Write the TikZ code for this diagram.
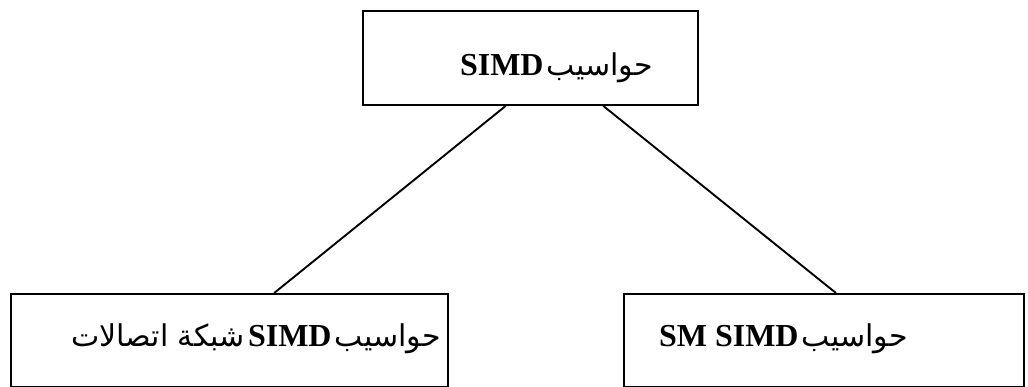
\documentclass[tikz,border=0pt]{standalone}
\usepackage{fontspec}
\usetikzlibrary{calc}
\TeXXeTstate=1
\newfontfamily\arabicfont[Script=Arabic]{DejaVu Sans}
\newfontfamily\latinfont{Liberation Serif}
\newcommand{\ar}[1]{{\arabicfont\fontsize{30pt}{34pt}\selectfont #1}}
\newcommand{\la}[1]{{\latinfont\bfseries\fontsize{32pt}{36pt}\selectfont #1}}
\begin{document}
\begin{tikzpicture}[x=1pt,y=-1pt,
  box/.style={draw,line width=1.8pt,rectangle,inner sep=0pt,anchor=north west},
  txt/.style={inner sep=0pt,anchor=base east},
  link/.style={line width=1.9pt}]
\useasboundingbox (0,0) rectangle (1028,386);
% boxes
\node[box,minimum width=335pt,minimum height=94pt] (top) at (362,10) {};
\node[box,minimum width=437pt,minimum height=93pt] (left) at (10,293) {};
\node[box,minimum width=400pt,minimum height=93pt] (right) at (623,293) {};
% texts
\node[txt] (ttop) at (653,75) {\arabicfont\beginR\ar{حواسيب} \la{SIMD}\endR};
\node[txt] (tleft) at (441,346) {\arabicfont\beginR\ar{حواسيب} \la{SIMD} \ar{شبكة اتصالات}\endR};
\node[txt] (tright) at (908,346) {\arabicfont\beginR\ar{حواسيب} \beginL\la{SM SIMD}\endL\endR};
% connectors
\draw[link] ($(top.south west)!0.427!(top.south east)$) -- ($(left.north west)!0.602!(left.north east)$);
\draw[link] ($(top.south west)!0.716!(top.south east)$) -- ($(right.north west)!0.53!(right.north east)$);
\end{tikzpicture}
\end{document}
